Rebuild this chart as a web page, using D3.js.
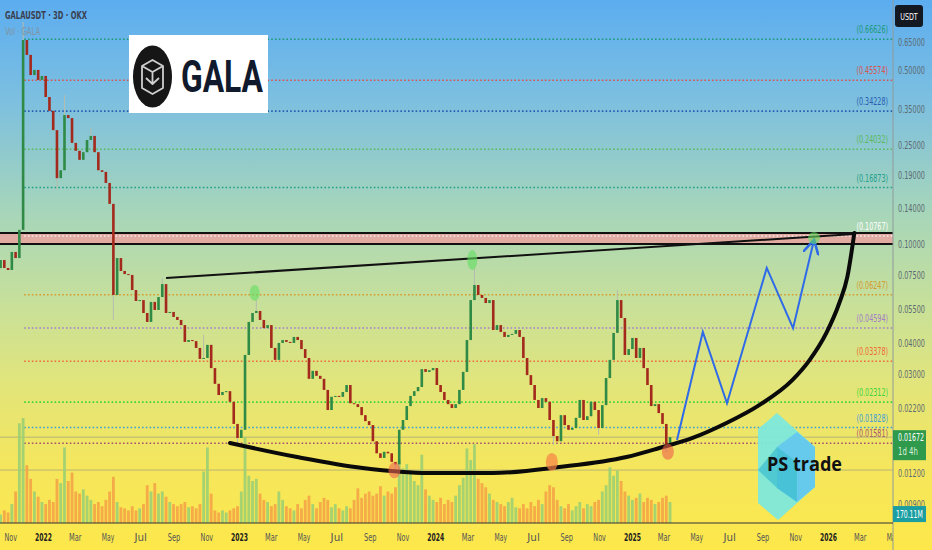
<!DOCTYPE html>
<html>
<head>
<meta charset="utf-8">
<script src="https://cdn.jsdelivr.net/npm/d3@7"></script>
<style>
  body { margin: 0; background: #fde84c; overflow: hidden; }
  svg { display: block; }
  .ax text { font-family: "Liberation Sans Narrow", "DejaVu Sans Condensed", "Liberation Sans", sans-serif; }
</style>
</head>
<body>
<div id="chart"></div>
<script>
// weekly candles (GALA/USDT, log scale)
var startDate = "2021-10-14";
var firstOpen = 0.0800;
var closes = [
  0.0862,0.0801,0.0786,0.0929,0.0878,0.114,0.661,0.576,0.478,0.501,
  0.457,0.474,0.390,0.343,0.287,0.184,0.198,0.330,0.321,0.255,
  0.237,0.218,0.234,0.262,0.272,0.234,0.198,0.195,0.176,0.145,
  0.0624,0.0878,0.0779,0.0757,0.0751,0.0653,0.0590,0.0595,0.0528,0.0486,
  0.0585,0.0543,0.0612,0.0690,0.0528,0.0533,0.0509,0.0495,0.0472,0.0404,
  0.0411,0.0407,0.0382,0.0345,0.0348,0.0393,0.0317,0.0274,0.0247,0.0254,
  0.0256,0.0232,0.0189,0.0166,0.0179,0.0358,0.0486,0.0528,0.0538,0.0495,
  0.0459,0.0472,0.0382,0.0342,0.0400,0.0411,0.0404,0.0400,0.0423,0.0411,
  0.0378,0.0348,0.0287,0.0309,0.0295,0.0287,0.0259,0.0215,0.0243,0.0245,
  0.0243,0.0254,0.0271,0.0229,0.0227,0.0221,0.0205,0.0194,0.0187,0.0161,
  0.0144,0.0138,0.0146,0.0144,0.0133,0.0130,0.0179,0.0196,0.0223,0.0245,
  0.0256,0.0266,0.0314,0.0306,0.0311,0.0317,0.0271,0.0254,0.0236,0.0227,
  0.0219,0.0227,0.0259,0.0306,0.0411,0.0595,0.0684,0.0624,0.0607,0.0579,
  0.0595,0.0451,0.0472,0.0443,0.0423,0.0431,0.0435,0.0451,0.0423,0.0348,
  0.0297,0.0271,0.0236,0.0219,0.0240,0.0232,0.0196,0.0169,0.0161,0.0205,
  0.0187,0.0179,0.0182,0.0200,0.0236,0.0196,0.0203,0.0232,0.0215,0.0182,
  0.0225,0.0289,0.0342,0.0439,0.0595,0.0504,0.0358,0.0378,0.0419,0.0348,
  0.0382,0.0317,0.0271,0.0223,0.0227,0.0209,0.0189,0.0153,0.01672
];
// volume in millions
var volumes = [
  160,240,200,360,600,1900,2000,1100,840,600,
  500,400,360,440,400,840,760,1440,800,960,
  600,560,640,520,440,360,400,320,440,600,
  880,400,300,280,240,320,240,280,360,720,
  600,760,560,600,500,400,360,320,360,400,
  300,320,280,360,980,1440,560,240,200,240,
  200,240,280,320,600,1640,900,800,840,560,
  440,400,320,360,600,440,320,280,240,360,
  280,440,520,360,280,400,480,440,300,360,
  280,240,320,280,440,660,480,560,600,520,
  560,700,520,600,560,680,1200,1040,1120,1000,
  800,720,1300,640,520,440,400,480,360,440,
  400,520,720,860,1420,1200,1500,840,760,680,
  560,440,400,360,320,400,480,300,280,360,
  280,400,320,440,360,600,720,680,440,320,
  280,360,240,320,400,280,360,320,400,440,
  600,720,1060,900,1000,800,600,520,440,480,
  560,400,480,440,360,400,480,520,400
];
var highWicks = [[6,0.781],[17,0.397],[24,0.293],[43,0.0730],[54,0.0431],[68,0.0595],[126,0.0801],[164,0.0653]];
var lowWicks = [[15,0.165],[30,0.0495],[63,0.0154],[105,0.0121],[147,0.01555],[159,0.0171],[177,0.0146]];

var fibLevels = [0.66626,0.45574,0.34228,0.24032,0.16873,0.10767,0.06247,0.04594,0.03378,0.02312,0.01828,0.01581];
var fibColors = ["#1c9a78","#d9534f","#2a5db0","#5cb85c","#1f9f8a","#f6eaea","#d69a2d","#a57cc8","#ef6a3a","#3bd63b","#3f9fd6","#a8506e"];
var fibStart = "2021-11-27";
var zoneLow = 0.1000, zoneHigh = 0.1107;

var priceTicks = [0.65,0.5,0.35,0.25,0.19,0.14,0.1,0.075,0.055,0.04,0.03,0.022,0.012,0.009];
var lastPrice = 0.01672, lastVolume = 170.11, refLine = 0.01233;

var trendLine = [["2022-08-18",0.0730],["2026-02-19",0.1097]];
var cupCurve = [
  ["2022-12-15",0.01584],["2023-04-19",0.01391],["2023-08-19",0.01257],["2023-12-21",0.01200],
  ["2024-04-17",0.01200],["2024-08-19",0.01268],["2024-12-22",0.01391],["2025-02-21",0.01512],
  ["2025-04-24",0.0166],["2025-06-26",0.01906],["2025-08-26",0.0225],["2025-10-27",0.0284],
  ["2025-11-28",0.0342],["2025-12-29",0.0439],["2026-01-22",0.0579],["2026-02-06",0.0737],["2026-02-19",0.1107]
];
var projection = [["2025-03-26",0.0163],["2025-05-13",0.0443],["2025-06-27",0.0229],["2025-09-09",0.0801],["2025-10-28",0.0459],["2025-12-06",0.104]];
var peakMarks = [["2023-01-30",0.0636,5,8],["2024-03-10",0.0862,5,10],["2025-12-06",0.1057,6,6]];
var lowMarks = [["2023-10-17",0.0123,6,8,"rgba(238,100,80,0.6)"],["2024-08-05",0.0133,6,9,"rgba(246,128,70,0.7)"],["2025-03-09",0.0146,6,8,"rgba(238,95,75,0.6)"]];

var W = 932, H = 550, plotRight = 893, plotBottom = 523;
var parse = d3.utcParse("%Y-%m-%d");
var axisFont = '"Liberation Sans Narrow","DejaVu Sans Condensed","Liberation Sans",sans-serif';

var svg = d3.select("#chart").append("svg").attr("width", W).attr("height", H);
var defs = svg.append("defs");

var grad = defs.append("linearGradient").attr("id", "bg")
  .attr("x1", 0).attr("y1", 0).attr("x2", 0).attr("y2", 1);
[[0, "#5cadf0"], [0.18, "#7cbfe0"], [0.38, "#a5d5bb"], [0.55, "#c7e09a"], [0.7, "#e2e57a"], [0.85, "#f5e65c"], [1, "#fde84a"]]
  .forEach(function(s) { grad.append("stop").attr("offset", s[0]).attr("stop-color", s[1]); });
svg.append("rect").attr("width", W).attr("height", H).attr("fill", "url(#bg)");

defs.append("clipPath").attr("id", "plot").append("rect")
  .attr("x", 0).attr("y", 0).attr("width", plotRight).attr("height", plotBottom);
defs.append("clipPath").attr("id", "taxis").append("rect")
  .attr("x", 0).attr("y", plotBottom).attr("width", plotRight).attr("height", H - plotBottom);

var marker = defs.append("marker").attr("id", "arrow")
  .attr("viewBox", "0 0 10 10").attr("refX", 9).attr("refY", 5)
  .attr("markerWidth", 16).attr("markerHeight", 16).attr("orient", "auto")
  .attr("markerUnits", "userSpaceOnUse");
marker.append("path").attr("d", "M0,0 L9,5 L0,10").attr("fill", "none")
  .attr("stroke", "#2f6ae8").attr("stroke-width", 1.6);

// squeeze a text horizontally (narrow font look) around its anchor point
function narrow(t, px, py, sx, str) {
  return t.attr("x", 0).attr("y", 0)
    .attr("transform", "translate(" + px + "," + py + ") scale(" + sx + ",1)")
    .text(str);
}

// scales
var x = d3.scaleUtc().domain([parse("2022-01-01"), parse("2026-01-01")]).range([43, 828]);
var y = d3.scaleLog().domain([0.007553, 0.9576]).range([plotBottom, 0]);
var yv = d3.scaleLinear().domain([0, 2000]).range([plotBottom, 418]);

// candles
var t0 = parse(startDate);
var candles = closes.map(function(c, i) {
  var o = i ? closes[i - 1] : firstOpen;
  return { date: d3.utcDay.offset(t0, 7 * i), open: o, close: c,
           high: Math.max(o, c), low: Math.min(o, c), vol: volumes[i] };
});
highWicks.forEach(function(w) { candles[w[0]].high = w[1]; });
lowWicks.forEach(function(w) { candles[w[0]].low = w[1]; });

var plot = svg.append("g").attr("clip-path", "url(#plot)");

// fib levels
var fibG = plot.append("g");
fibG.append("rect")
  .attr("x", 0).attr("width", plotRight)
  .attr("y", y(zoneHigh)).attr("height", y(zoneLow) - y(zoneHigh))
  .attr("fill", "#eaa3a0").attr("opacity", 0.85);
fibLevels.forEach(function(lv, i) {
  fibG.append("line")
    .attr("x1", x(parse(fibStart))).attr("x2", plotRight)
    .attr("y1", y(lv)).attr("y2", y(lv))
    .attr("stroke", fibColors[i]).attr("stroke-width", 1.6)
    .attr("stroke-dasharray", "1.6,2.2");
  narrow(fibG.append("text"), 888, y(lv) - 6, 0.68, "(" + lv.toFixed(5) + ")")
    .attr("text-anchor", "end")
    .attr("font-family", axisFont).attr("font-size", 10.5)
    .attr("fill", i == 5 ? "#ffffff" : fibColors[i]);
});
[zoneHigh, zoneLow].forEach(function(p) {
  fibG.append("line").attr("x1", 0).attr("x2", plotRight)
    .attr("y1", y(p)).attr("y2", y(p))
    .attr("stroke", "#111").attr("stroke-width", 2);
});

// thin horizontal lines
[lastPrice, refLine].forEach(function(p) {
  plot.append("line").attr("x1", 0).attr("x2", plotRight)
    .attr("y1", y(p)).attr("y2", y(p))
    .attr("stroke", "#a8a87a").attr("stroke-width", 0.8);
});

// volume
plot.append("g").selectAll("rect")
  .data(candles).enter().append("rect")
  .attr("x", function(d) { return x(d.date) - 1.4; })
  .attr("width", 2.8)
  .attr("y", function(d) { return yv(d.vol); })
  .attr("height", function(d) { return plotBottom - yv(d.vol); })
  .attr("fill", function(d) { return d.close >= d.open ? "#9ccf72" : "#f3a447"; })
  .attr("opacity", 0.9);

// wicks and bodies
var cg = plot.append("g");
cg.selectAll("line").data(candles).enter().append("line")
  .attr("x1", function(d) { return x(d.date); })
  .attr("x2", function(d) { return x(d.date); })
  .attr("y1", function(d) { return y(d.high); })
  .attr("y2", function(d) { return y(d.low); })
  .attr("stroke", "#b5bcae").attr("stroke-width", 1);
cg.selectAll("rect").data(candles).enter().append("rect")
  .attr("x", function(d) { return x(d.date) - 1.3; })
  .attr("width", 2.6)
  .attr("y", function(d) { return y(Math.max(d.open, d.close)); })
  .attr("height", function(d) { return Math.max(1, Math.abs(y(d.open) - y(d.close))); })
  .attr("fill", function(d) { return d.close >= d.open ? "#2f8a46" : "#a3291c"; });

// trendline, cup, projection
var line = d3.line().x(function(d) { return x(parse(d[0])); }).y(function(d) { return y(d[1]); });
plot.append("path").attr("d", line(trendLine))
  .attr("fill", "none").attr("stroke", "#111").attr("stroke-width", 2);
plot.append("path").attr("d", line.curve(d3.curveMonotoneX)(cupCurve))
  .attr("fill", "none").attr("stroke", "#0a0a0a").attr("stroke-width", 4).attr("stroke-linecap", "round");
plot.append("path").attr("d", line.curve(d3.curveLinear)(projection))
  .attr("fill", "none").attr("stroke", "#2f6ae8").attr("stroke-width", 2)
  .attr("marker-end", "url(#arrow)");

// highlight marks
peakMarks.forEach(function(m) {
  plot.append("ellipse").attr("cx", x(parse(m[0]))).attr("cy", y(m[1]))
    .attr("rx", m[2]).attr("ry", m[3]).attr("fill", "rgba(96,222,96,0.6)");
});
lowMarks.forEach(function(m) {
  plot.append("ellipse").attr("cx", x(parse(m[0]))).attr("cy", y(m[1]))
    .attr("rx", m[2]).attr("ry", m[3]).attr("fill", m[4]);
});

// GALA logo
var logo = svg.append("g");
logo.append("rect").attr("x", 129).attr("y", 35).attr("width", 139).attr("height", 78).attr("fill", "#fff");
logo.append("ellipse").attr("cx", 152.5).attr("cy", 76.5).attr("rx", 19.5).attr("ry", 31).attr("fill", "#161616");
logo.append("path")
  .attr("d", "M152.5,60 L163,66 L163,88 L152.5,94 L142,88 L142,66 Z M142,66 L152.5,72 L163,66 M152.5,72 L152.5,84 M146,78 L152.5,84 L159,78")
  .attr("fill", "none").attr("stroke", "#cfcfcf").attr("stroke-width", 1.8).attr("stroke-linejoin", "round");
logo.append("text").attr("x", 181).attr("y", 92)
  .attr("font-family", "Roboto, 'Noto Sans', sans-serif").attr("font-weight", 700)
  .attr("font-size", 44).attr("fill", "#111a2c")
  .attr("textLength", 82).attr("lengthAdjust", "spacingAndGlyphs")
  .text("GALA");

// PS trade logo
var ps = svg.append("g");
ps.append("polygon").attr("points", "777,413 815,447 815,487 778,520 758,503 758,429")
  .attr("fill", "#7de8dc").attr("opacity", 0.95);
ps.append("polygon").attr("points", "797,432 815,447 815,487 797,502 777,488 777,447")
  .attr("fill", "#62c6ee").attr("opacity", 0.9);
ps.append("polygon").attr("points", "777,447 797,462 797,502 777,488 758,470")
  .attr("fill", "#3fbfcf").attr("opacity", 0.75);
ps.append("text").attr("x", 767).attr("y", 471)
  .attr("font-family", "'Open Sans', 'Noto Sans', sans-serif").attr("font-weight", 700)
  .attr("font-size", 19).attr("fill", "#111")
  .attr("textLength", 75).attr("lengthAdjust", "spacingAndGlyphs")
  .text("PS trade");

// header
narrow(svg.append("text"), 5, 19, 0.72, "GALAUSDT · 3D · OKX")
  .attr("font-family", axisFont).attr("font-size", 10.5).attr("font-weight", 700)
  .attr("fill", "#3a4050");
narrow(svg.append("text"), 5, 35, 0.72, "Vol · GALA")
  .attr("font-family", axisFont).attr("font-size", 10.5)
  .attr("fill", "#7f95a5");

// axes
svg.append("line").attr("x1", plotRight).attr("x2", plotRight).attr("y1", 0).attr("y2", H)
  .attr("stroke", "#8e9a9a").attr("stroke-width", 1);
svg.append("line").attr("x1", 0).attr("x2", plotRight).attr("y1", plotBottom).attr("y2", plotBottom)
  .attr("stroke", "#333").attr("stroke-width", 1);

var yAxis = svg.append("g").attr("class", "ax")
  .attr("transform", "translate(" + plotRight + ",0)")
  .call(d3.axisRight(y).tickValues(priceTicks).tickFormat(d3.format(".5f")).tickSize(0).tickPadding(5));
yAxis.select(".domain").remove();
yAxis.selectAll("text").attr("font-size", 11).attr("fill", "#5d6b73")
  .attr("x", 5 / 0.66).attr("transform", "scale(0.66,1)");

var months = d3.utcMonth.every(2).range(parse("2021-11-01"), parse("2026-05-02"));
var xAxis = svg.append("g").attr("class", "ax").attr("clip-path", "url(#taxis)")
  .append("g").attr("transform", "translate(0," + plotBottom + ")")
  .call(d3.axisBottom(x).tickValues(months)
    .tickFormat(function(d) { return d.getUTCMonth() === 0 ? d.getUTCFullYear() : d3.utcFormat("%b")(d); })
    .tickSize(0).tickPadding(11));
xAxis.select(".domain").remove();
xAxis.selectAll("text").attr("font-size", 10.5)
  .attr("textLength", function(d) { return d.getUTCMonth() === 0 ? 17 : 12.5; })
  .attr("lengthAdjust", "spacingAndGlyphs")
  .attr("fill", function(d) { return d.getUTCMonth() === 0 ? "#1e1e1e" : "#555"; })
  .attr("font-weight", function(d) { return d.getUTCMonth() === 0 ? 700 : 400; });

// badges
svg.append("rect").attr("x", 895).attr("y", 5).attr("width", 28).attr("height", 22).attr("rx", 3).attr("fill", "#141820");
narrow(svg.append("text"), 909, 19.5, 0.75, "USDT").attr("text-anchor", "middle")
  .attr("font-family", axisFont).attr("font-size", 9.5).attr("fill", "#fff");

var py = y(lastPrice);
svg.append("rect").attr("x", plotRight).attr("y", py - 7).attr("width", 33).attr("height", 30).attr("fill", "#2f9a4c");
narrow(svg.append("text"), 898, py + 4, 0.64, lastPrice.toFixed(5))
  .attr("font-family", axisFont).attr("font-size", 11).attr("fill", "#fff");
narrow(svg.append("text"), 898, py + 18, 0.7, "1d 4h")
  .attr("font-family", axisFont).attr("font-size", 11).attr("fill", "#d6f0da");

var vy = yv(lastVolume);
svg.append("rect").attr("x", plotRight).attr("y", vy - 8).attr("width", 33).attr("height", 16).attr("fill", "#1a9ea2");
narrow(svg.append("text"), 896, vy + 4, 0.62, lastVolume.toFixed(2) + "M")
  .attr("font-family", axisFont).attr("font-size", 11).attr("fill", "#fff");
</script>
</body>
</html>
